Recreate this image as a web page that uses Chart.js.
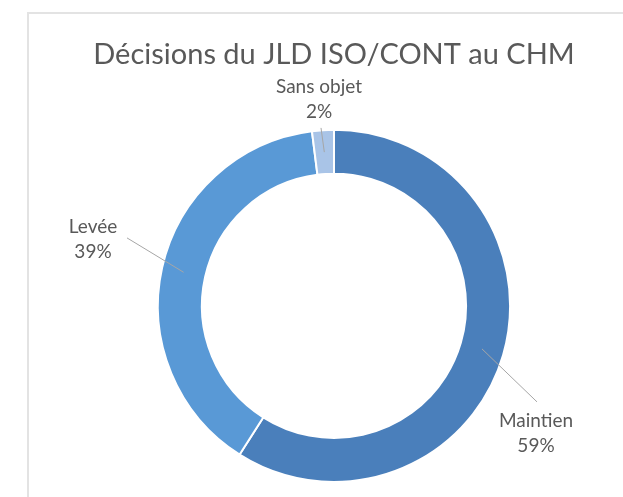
<!DOCTYPE html>
<html>
<head>
<meta charset="utf-8">
<script src="https://cdn.jsdelivr.net/npm/chart.js@4/dist/chart.umd.min.js"></script>
<style>
  html, body { margin: 0; padding: 0; background: #fff; }
  #wrap { position: relative; width: 623px; height: 497px; overflow: hidden; }
  #card {
    position: absolute; left: 27px; top: 12px; width: 700px; height: 600px;
    border-left: 2px solid #e3e3e3; border-top: 2px solid #e3e3e3;
  }
  #chart { position: absolute; left: 0; top: 0; }
</style>
</head>
<body>
<div id="wrap">
  <div id="card"></div>
  <canvas id="chart" width="623" height="497"></canvas>
</div>
<script>
// Data
const categories = ['Maintien', 'Levée', 'Sans objet']
const shares = [59, 39, 2]
const sliceColors = ['#4a7fbb', '#5999d6', '#a9c4e7']

// Label placement, relative to the doughnut centre (text block centre + leader line end)
const labelLayout = [
  { tx: 202, ty: 121, lx: 203, ly: 96 },
  { tx: -241, ty: -73, lx: -207, ly: -68 },
  { tx: -15, ty: -213, lx: -13, ly: -178 }
]

const textColor = '#595959'
const fontFamily = 'Lato, "Open Sans", sans-serif'

const outsideLabels = {
  id: 'outsideLabels',
  afterDatasetsDraw(chart) {
    const ctx = chart.ctx
    const meta = chart.getDatasetMeta(0)
    const total = shares.reduce((a, b) => a + b, 0)

    meta.data.forEach((arc, i) => {
      const { x, y, startAngle, endAngle, innerRadius, outerRadius } =
        arc.getProps(['x', 'y', 'startAngle', 'endAngle', 'innerRadius', 'outerRadius'], true)
      const mid = (startAngle + endAngle) / 2
      const r = (innerRadius + outerRadius) / 2
      const lay = labelLayout[i]

      // Leader line
      ctx.save()
      ctx.strokeStyle = '#a6a6a6'
      ctx.lineWidth = 1
      ctx.beginPath()
      ctx.moveTo(x + Math.cos(mid) * r, y + Math.sin(mid) * r)
      ctx.lineTo(x + lay.lx, y + lay.ly)
      ctx.stroke()

      // Text
      ctx.fillStyle = textColor
      ctx.font = '19px ' + fontFamily
      ctx.textAlign = 'center'
      ctx.textBaseline = 'alphabetic'
      const pct = Math.round(shares[i] / total * 100) + '%'
      ctx.fillText(categories[i], x + lay.tx, y + lay.ty)
      ctx.fillText(pct, x + lay.tx, y + lay.ty + 25)
      ctx.restore()
    })
  }
}

const ctx = document.getElementById('chart').getContext('2d')

new Chart(ctx, {
  type: 'doughnut',
  data: {
    labels: categories,
    datasets: [{
      data: shares,
      backgroundColor: sliceColors,
      borderColor: '#ffffff',
      borderWidth: 2
    }]
  },
  options: {
    responsive: false,
    animation: false,
    cutout: '75%',
    layout: {
      padding: { left: 45, right: 0, top: 0, bottom: 14 }
    },
    plugins: {
      legend: { display: false },
      tooltip: { enabled: false },
      title: {
        display: true,
        text: 'Décisions du JLD ISO/CONT au CHM',
        color: textColor,
        font: { family: fontFamily, size: 29, weight: 'normal' },
        padding: { top: 37, bottom: 57 }
      }
    }
  },
  plugins: [outsideLabels]
})
</script>
</body>
</html>
